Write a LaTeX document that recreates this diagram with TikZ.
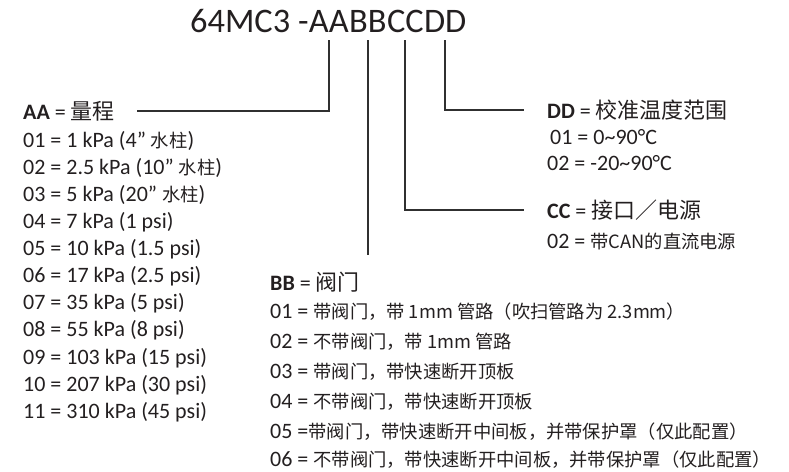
\documentclass[tikz,border=0pt]{standalone}
\usepackage{fontspec}
\setmainfont{Carlito}
\newfontfamily\zhfont{Noto Sans CJK SC}
\newcommand\zh[1]{{\zhfont\fontsize{18.3pt}{22pt}\selectfont #1}}
\newcommand\zhhd[1]{{\zhfont #1}}
\usetikzlibrary{positioning}
\definecolor{ink}{HTML}{231F20}
\definecolor{rule}{HTML}{303030}

\begin{document}
\begin{tikzpicture}[x=1pt,y=-1pt,font=\fontsize{22pt}{26pt}\selectfont,text=ink,
  t/.style={inner sep=0pt,anchor=west},
  code/.style={inner sep=0pt,anchor=base west,font=\fontsize{34.4pt}{40pt}\selectfont},
  lead/.style={draw=rule,line width=1.9pt}]
\useasboundingbox (0,0) rectangle (789,471);
% part number
\node[code] (pre) at (190,32) {64MC3 -};
\node[code] (aa) at (pre.base east) {AA};
\node[code] (bb) at (aa.base east) {BB};
\node[code] (cc) at (bb.base east) {CC};
\node[code] (dd) at (cc.base east) {DD};
% AA
\node[t] (aahd) at (23,111) {\textbf{AA} = \zhhd{量程}};
\node[t] (aa01) at (23,141) {01 = 1 kPa (4” \zh{水柱})};
\node[t] (aa02) at (23,168) {02 = 2.5 kPa (10” \zh{水柱})};
\node[t] (aa03) at (23,195) {03 = 5 kPa (20” \zh{水柱})};
\node[t] (aa04) at (23,222) {04 = 7 kPa (1 psi)};
\node[t] (aa05) at (23,249) {05 = 10 kPa (1.5 psi)};
\node[t] (aa06) at (23,276) {06 = 17 kPa (2.5 psi)};
\node[t] (aa07) at (23,303) {07 = 35 kPa (5 psi)};
\node[t] (aa08) at (23,330) {08 = 55 kPa (8 psi)};
\node[t] (aa09) at (23,358) {09 = 103 kPa (15 psi)};
\node[t] (aa10) at (23,385) {10 = 207 kPa (30 psi)};
\node[t] (aa11) at (23,412) {11 = 310 kPa (45 psi)};
% BB
\node[t] (bbhd) at (270,282) {\textbf{BB} = \zhhd{阀门}};
\node[t] (bb01) at (270,312) {01 = \zh{带阀门，带 1mm 管路（吹扫管路为 2.3mm）}};
\node[t] (bb02) at (270,342) {02 = \zh{不带阀门，带 1mm 管路}};
\node[t] (bb03) at (270,372) {03 = \zh{带阀门，带快速断开顶板}};
\node[t] (bb04) at (270,402) {04 = \zh{不带阀门，带快速断开顶板}};
\node[t] (bb05) at (270,432) {05 =\zh{带阀门，带快速断开中间板，并带保护罩（仅此配置）}};
\node[t] (bb06) at (270,460) {06 = \zh{不带阀门，带快速断开中间板，并带保护罩（仅此配置）}};
\coordinate (bbend) at (0,255);
% CC
\node[t] (cchd) at (547,210) {\textbf{CC} = \zhhd{接口／电源}};
\node[t] (cc02) at (547,242) {02 = \zh{带CAN的直流电源}};
% DD
\node[t] (ddhd) at (547,110) {\textbf{DD} = \zhhd{校准温度范围}};
\node[t] (dd01) at (550,137) {01 = 0\textasciitilde 90°C};
\node[t] (dd02) at (547,163) {02 = -20\textasciitilde 90°C};
% leads
\draw[lead] ([yshift=-8pt]aa.south) |- ([xshift=22pt]aahd.east);
\draw[lead] ([yshift=-8pt]bb.south) -- (bb.south |- bbend);
\draw[lead] ([yshift=-8pt]cc.south) |- ([xshift=-23pt]cchd.west);
\draw[lead] ([yshift=-8pt]dd.south) |- ([xshift=-23pt]ddhd.west);
\end{tikzpicture}
\end{document}
